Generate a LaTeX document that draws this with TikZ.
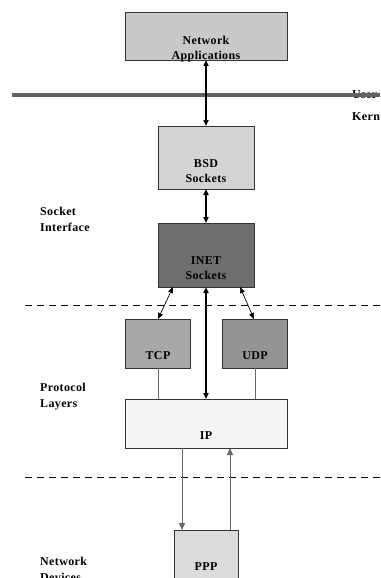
\documentclass[tikz,border=0pt]{standalone}
\usepackage{fontspec}
\setmainfont{Liberation Serif}[LetterSpace=3]
\usetikzlibrary{arrows.meta}
\begin{document}
\begin{tikzpicture}[x=1pt,y=-1pt,
  box/.style={draw=black!80,line width=0.9pt,inner sep=0pt},
  lbl/.style={font=\bfseries\fontsize{12}{15}\selectfont,align=center,inner sep=0pt},
  side/.style={font=\bfseries\fontsize{12}{16}\selectfont,align=left,anchor=west,inner sep=0pt},
  dbl/.style={line width=1.5pt,{Triangle[length=6pt,width=5pt]}-{Triangle[length=6pt,width=5pt]}},
  thin/.style={line width=0.7pt,{Triangle[length=6pt,width=5pt]}-{Triangle[length=6pt,width=5pt]}},
  gl/.style={draw=black!60,line width=0.9pt},
  dsh/.style={line width=0.7pt,dash pattern=on 7pt off 5pt}]
\useasboundingbox (0,0) rectangle (380,578);
\clip (0,0) rectangle (380,578);
\fill[white] (0,0) rectangle (380,578);
% boxes
\path[box,fill=black!21] (125,12) rectangle (287,60);
\node[lbl] (app) at (206,49) {Network\\Applications};
\path[box,fill=black!17] (158,126) rectangle (254,189);
\node[lbl] (bsd) at (206,171) {BSD\\Sockets};
\path[box,fill=black!57] (158,223) rectangle (254,287);
\node[lbl] (inet) at (206,268) {INET\\Sockets};
\path[box,fill=black!34] (125,319) rectangle (190,368);
\node[lbl] (tcp) at (158,356) {TCP};
\path[box,fill=black!42] (222,319) rectangle (287,368);
\node[lbl] (udp) at (255,356) {UDP};
\path[box,fill=black!4] (125,399) rectangle (287,448);
\node[lbl] (ip) at (206,436) {IP};
\path[box,fill=black!14] (174,530) rectangle (238,590);
\node[lbl] (ppp) at (206,567) {PPP};
% side labels
\node[side] (si) at (40,219) {Socket\\Interface};
\node[side] (pl) at (40,397) {Protocol\\Layers};
\node[side] (nd) at (40,569) {Network\\Devices};
\node[side] (user) at (352,95) {User};
\node[side] (kern) at (352,117) {Kern};
% user/kernel line
\draw[black!62,line width=4pt] (12,95) -- (380,95);
% dashed lines
\draw[dsh] (25,305) -- (380,305);
\draw[dsh] (25,477) -- (380,477);
% coordinates
\coordinate (a1) at (206,60); \coordinate (a2) at (206,126);
\coordinate (b1) at (206,189); \coordinate (b2) at (206,223);
\coordinate (i1) at (173,287); \coordinate (t1) at (158,319);
\coordinate (i2) at (206,287); \coordinate (p1) at (206,399);
\coordinate (i3) at (240,287); \coordinate (u1) at (254,319);
\coordinate (tb) at (158,368); \coordinate (tp) at (158,399);
\coordinate (ub) at (255,368); \coordinate (up) at (255,399);
\coordinate (d1) at (182,448); \coordinate (d2) at (182,530);
\coordinate (e1) at (230,530); \coordinate (e2) at (230,448);
\draw[dbl] (a1) -- (a2);
\draw[dbl] (b1) -- (b2);
\draw[dbl] (i2) -- (p1);
\draw[thin] (i1) -- (t1);
\draw[thin] (i3) -- (u1);
\draw[gl] (tb) -- (tp);
\draw[gl] (ub) -- (up);
\draw[gl,-{Triangle[length=7pt,width=6pt]}] (d1) -- (d2);
\draw[gl,-{Triangle[length=7pt,width=6pt]}] (e1) -- (e2);
\end{tikzpicture}
\end{document}
